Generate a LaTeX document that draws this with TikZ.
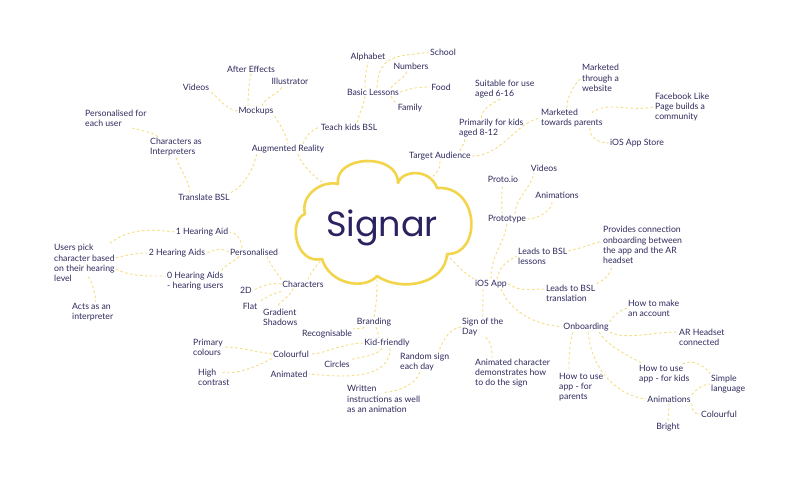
\documentclass[tikz,border=0pt]{standalone}
\usepackage{fontspec}
\setmainfont{Lato}
\newfontfamily\bigfont{Poppins}
\definecolor{ink}{HTML}{2F2B5E}
\definecolor{bigink}{HTML}{2A2360}
\definecolor{dashc}{HTML}{F6DD7E}
\definecolor{cloudc}{HTML}{F2D54B}
\begin{document}
\begin{tikzpicture}[x=1pt,y=-1pt,
  lbl/.style={font=\fontsize{8.7}{10.2}\selectfont, text=ink, inner sep=1pt, align=left},
  conn/.style={draw=dashc, line width=0.9pt, dash pattern=on 2.5pt off 2.5pt}]
\useasboundingbox[fill=white] (0,0) rectangle (800,479);
% cloud
\draw[cloudc, line width=2.6pt, line join=round]
  (305,214) .. controls (300,195) and (322,180) .. (338,184)
  .. controls (334,155) and (398,152) .. (398,183)
  .. controls (402,170) and (430,168) .. (437,188)
  .. controls (480,185) and (482,255) .. (447,254)
  .. controls (445,285) and (400,292) .. (377,276)
  .. controls (365,290) and (330,285) .. (322,259)
  .. controls (295,265) and (288,220) .. (305,214) -- cycle;
\coordinate (cAR) at (325,184);
\coordinate (cTA) at (430,179);
\coordinate (cIOS) at (447,254);
\coordinate (cBR) at (377,277);
\coordinate (cCH) at (322,259);
\node[anchor=base, text=bigink, font=\bigfont\fontsize{35}{40}\selectfont, inner sep=0pt] (signar) at (382,236) {Signar};

% top-left
\node[lbl] (vid1) at (196,87) {Videos};
\node[lbl] (ae) at (251,69) {After Effects};
\node[lbl] (ill) at (290,81) {Illustrator};
\node[lbl] (mock) at (256,111) {Mockups};
\node[lbl, anchor=west] (pers1) at (84,118) {Personalised for\\each user};
\node[lbl, anchor=west] (charint) at (149,147) {Characters as\\Interpreters};
\node[lbl] (ar) at (288,149) {Augmented Reality};
\node[lbl] (trans) at (204,197) {Translate BSL};
\node[lbl] (teach) at (349,127) {Teach kids BSL};
\node[lbl] (alpha) at (368,57) {Alphabet};
\node[lbl] (school) at (443,52) {School};
\node[lbl] (numbers) at (411,66) {Numbers};
\node[lbl] (basic) at (373,92) {Basic Lessons};
\node[lbl] (food) at (441,87) {Food};
\node[lbl] (family) at (410,108) {Family};
% top-right
\node[lbl, anchor=west] (suit) at (474,89) {Suitable for use\\aged 6-16};
\node[lbl, anchor=west] (prim) at (458,128) {Primarily for kids\\aged 8-12};
\node[lbl] (target) at (440,156) {Target Audience};
\node[lbl, anchor=west] (mweb) at (581,78) {Marketed\\through a\\website};
\node[lbl, anchor=west] (mpar) at (540,118) {Marketed\\towards parents};
\node[lbl, anchor=west] (fb) at (654,107) {Facebook Like\\Page builds a\\community};
\node[lbl] (appstore) at (637,143) {iOS App Store};
% right
\node[lbl] (protoio) at (503,179) {Proto.io};
\node[lbl] (vid2) at (544,168) {Videos};
\node[lbl] (anim1) at (557,195) {Animations};
\node[lbl] (proto) at (507,219) {Prototype};
\node[lbl, anchor=west] (provides) at (602,245) {Provides connection\\onboarding between\\the app and the AR\\headset};
\node[lbl, anchor=west] (lessons) at (517,256) {Leads to BSL\\lessons};
\node[lbl] (iosapp) at (491,284) {iOS App};
\node[lbl, anchor=west] (translation) at (545,293) {Leads to BSL\\translation};
\node[lbl] (onb) at (586,327) {Onboarding};
\node[lbl, anchor=west] (account) at (627,308) {How to make\\an account};
\node[lbl, anchor=west] (arhead) at (678,337) {AR Headset\\connected};
\node[lbl, anchor=west] (sotd) at (461,327) {Sign of the\\Day};
\node[lbl, anchor=west] (animchar) at (474,373) {Animated character\\demonstrates how\\to do the sign};
\node[lbl, anchor=west] (parents) at (558,387) {How to use\\app - for\\parents};
\node[lbl, anchor=west] (kids) at (638,374) {How to use\\app - for kids};
\node[lbl, anchor=west] (simple) at (710,384) {Simple\\language};
\node[lbl] (anim2) at (669,399) {Animations};
\node[lbl] (colour2) at (719,414) {Colourful};
\node[lbl] (bright) at (668,427) {Bright};
% left lower
\node[lbl] (ha1) at (202,232) {1 Hearing Aid};
\node[lbl, anchor=west] (users) at (53,263) {Users pick\\character based\\on their hearing\\level};
\node[lbl] (ha2) at (177,253) {2 Hearing Aids};
\node[lbl] (persd) at (254,252) {Personalised};
\node[lbl, anchor=west] (ha0) at (166,281) {0 Hearing Aids\\- hearing users};
\node[lbl] (chars) at (303,284) {Characters};
\node[lbl] (twod) at (246,290) {2D};
\node[lbl] (flat) at (250,306) {Flat};
\node[lbl, anchor=west] (grad) at (262,317) {Gradient\\Shadows};
\node[lbl, anchor=west] (acts) at (71,312) {Acts as an\\interpreter};
% bottom
\node[lbl] (brand) at (374,322) {Branding};
\node[lbl] (recog) at (327,334) {Recognisable};
\node[lbl] (kid) at (387,343) {Kid-friendly};
\node[lbl, anchor=west] (primary) at (192,347) {Primary\\colours};
\node[lbl] (colour1) at (291,354) {Colourful};
\node[lbl] (circles) at (337,364) {Circles};
\node[lbl, anchor=west] (random) at (399,362) {Random sign\\each day};
\node[lbl, anchor=west] (high) at (197,377) {High\\contrast};
\node[lbl] (animated) at (289,374) {Animated};
\node[lbl, anchor=west] (written) at (346,399) {Written\\instructions as well\\as an animation};

% connectors: augmented reality
\draw[conn] ([xshift=10pt]ar.south) .. controls +(3,10) and +(-10,-6) .. (cAR);
\draw[conn] (mock.south east) .. controls +(5,8) and +(-2,-10) .. (ar.north);
\draw[conn] ([xshift=15pt]ar.north) .. controls +(3,-8) and +(-8,3) .. (teach.west);
\draw[conn] ([xshift=6pt]ar.south west) .. controls +(-3,15) and +(12,-5) .. (trans.north east);
\draw[conn] ([xshift=-14pt]trans.north) .. controls +(0,-10) and +(2,8) .. (charint.south);
\draw[conn] ([xshift=-18pt]charint.north) .. controls +(-5,-5) and +(8,3) .. ([xshift=15pt]pers1.south);
\draw[conn] (mock.west) .. controls +(-12,-2) and +(8,6) .. (vid1.south east);
\draw[conn] ([xshift=-8pt]mock.north) .. controls +(0,-12) and +(-2,10) .. (ae.south);
\draw[conn] ([xshift=6pt]mock.north) .. controls +(3,-10) and +(0,8) .. ([xshift=-8pt]ill.south);
% basic lessons
\draw[conn] ([xshift=8pt]teach.north) .. controls +(3,-12) and +(-2,12) .. ([xshift=-8pt]basic.south);
\draw[conn] ([xshift=-8pt]basic.north) .. controls +(0,-12) and +(-2,10) .. (alpha.south);
\draw[conn] ([xshift=4pt]basic.north) .. controls +(2,-35) and +(-30,5) .. (school.west);
\draw[conn] ([xshift=18pt]basic.north) .. controls +(5,-6) and +(0,6) .. ([xshift=-4pt]numbers.south);
\draw[conn] (basic.east) .. controls +(12,-4) and +(-12,0) .. (food.west);
\draw[conn] ([xshift=18pt]basic.south) .. controls +(3,4) and +(-4,-2) .. (family.north west);
% target audience
\draw[conn] (target.south) .. controls +(0,10) and +(6,-6) .. (cTA);
\draw[conn] ([xshift=20pt]target.north) .. controls +(2,-5) and +(0,5) .. ([xshift=7pt]prim.south west);
\draw[conn] ([xshift=-10pt]prim.north) .. controls +(0,-8) and +(-8,4) .. ([xshift=-5pt]suit.south);
\draw[conn] (target.east) .. controls +(30,0) and +(-25,5) .. (mpar.west);
\draw[conn] ([xshift=-5pt]mpar.north) .. controls +(0,-12) and +(-6,6) .. (mweb.west);
\draw[conn] ([xshift=-12pt,yshift=-5pt]mpar.north east) .. controls +(15,-12) and +(-25,5) .. (fb.west);
\draw[conn] ([xshift=18pt]mpar.south) .. controls +(0,10) and +(-10,0) .. (appstore.west);
% iOS app
\draw[conn] (cIOS) .. controls +(10,12) and +(-10,-6) .. (iosapp.north west);
\draw[conn] (iosapp.north) .. controls +(0,-25) and +(-3,20) .. (proto.south);
\draw[conn] ([xshift=-5pt]proto.north) .. controls +(0,-12) and +(-2,10) .. (protoio.south);
\draw[conn] ([xshift=8pt]proto.north) .. controls +(0,-15) and +(-2,14) .. ([xshift=-10pt]vid2.south);
\draw[conn] (proto.east) .. controls +(12,0) and +(2,10) .. ([xshift=-5pt]anim1.south);
\draw[conn] ([xshift=6pt]iosapp.north) .. controls +(2,-14) and +(-6,3) .. (lessons.west);
\draw[conn] ([yshift=5pt]lessons.east) .. controls +(12,-3) and +(-15,5) .. ([yshift=4pt]provides.west);
\draw[conn] (iosapp.east) .. controls +(12,8) and +(-14,0) .. ([yshift=4pt]translation.west);
\draw[conn] (translation.north east) .. controls +(8,-3) and +(0,8) .. ([xshift=10pt]provides.south west);
\draw[conn] ([xshift=10pt]iosapp.south) .. controls +(10,22) and +(-30,-3) .. (onb.west);
\draw[conn] ([xshift=-8pt]iosapp.south) .. controls +(0,10) and +(0,-8) .. (sotd.north);
\draw[conn] (sotd.west) .. controls +(-14,2) and +(4,-8) .. ([xshift=-12pt]random.north east);
\draw[conn] ([xshift=3pt]sotd.south) .. controls +(6,6) and +(0,-8) .. ([xshift=18pt]animchar.north west);
\draw[conn] (onb.north east) .. controls +(5,-8) and +(-8,3) .. (account.west);
\draw[conn] (onb.south east) .. controls +(15,8) and +(-25,0) .. ([yshift=5pt]arhead.west);
\draw[conn] ([xshift=-13pt]onb.south) .. controls +(-4,12) and +(0,-10) .. ([xshift=11pt]parents.north west);
\draw[conn] ([xshift=13pt]onb.south) .. controls +(10,16) and +(-8,-5) .. ([xshift=5pt]kids.north west);
\draw[conn] ([xshift=2pt]onb.south) .. controls +(5,45) and +(-22,-2) .. (anim2.west);
\draw[conn] ([xshift=-8pt]kids.north east) .. controls +(10,-6) and +(-3,-6) .. (simple.north west);
\draw[conn] (anim2.north east) .. controls +(5,-6) and +(-6,0) .. (simple.west);
\draw[conn] (anim2.south east) .. controls +(0,8) and +(-6,0) .. (colour2.west);
\draw[conn] (anim2.south) .. controls +(0,8) and +(0,-6) .. (bright.north);
% characters
\draw[conn] ([xshift=5pt]chars.north) .. controls +(3,-8) and +(-5,6) .. (cCH);
\draw[conn] (chars.north west) .. controls +(-5,-8) and +(3,8) .. ([xshift=13pt]persd.south);
\draw[conn] ([xshift=-12pt]persd.north) .. controls +(0,-8) and +(6,0) .. (ha1.east);
\draw[conn] (persd.west) .. controls +(-10,-5) and +(10,-3) .. (ha2.east);
\draw[conn] ([xshift=-15pt]persd.south) .. controls +(-5,6) and +(3,-6) .. ([xshift=-3pt]ha0.north east);
\draw[conn] ([xshift=-6pt]users.north east) .. controls +(20,-15) and +(-25,-3) .. (ha1.west);
\draw[conn] ([yshift=5pt]users.east) .. controls +(10,-3) and +(-10,0) .. (ha2.west);
\draw[conn] ([yshift=-6pt]users.east) .. controls +(15,8) and +(-15,0) .. ([yshift=5pt]ha0.west);
\draw[conn] ([xshift=4pt,yshift=6pt]users.south) .. controls +(5,8) and +(0,-6) .. ([xshift=3pt]acts.north);
\draw[conn] (chars.west) .. controls +(-10,-2) and +(8,-3) .. (twod.east);
\draw[conn] ([yshift=-3pt]chars.south west) .. controls +(-12,3) and +(8,-3) .. (flat.north east);
\draw[conn] ([xshift=-10pt]chars.south) .. controls +(-2,8) and +(2,-6) .. ([xshift=15pt]grad.north west);
% branding
\draw[conn] (brand.north) .. controls +(3,-15) and +(0,12) .. (cBR);
\draw[conn] ([xshift=-10pt]brand.south) .. controls +(-3,4) and +(5,-2) .. (recog.north east);
\draw[conn] ([xshift=2pt]brand.south) .. controls +(1,3) and +(0,-3) .. ([xshift=-8pt]kid.north);
\draw[conn] (kid.west) .. controls +(-20,0) and +(15,0) .. (colour1.east);
\draw[conn] ([xshift=-5pt]kid.south) .. controls +(-5,8) and +(10,-3) .. (circles.north east);
\draw[conn] ([xshift=3pt]kid.south) .. controls +(0,35) and +(25,2) .. (animated.east);
\draw[conn] (colour1.west) .. controls +(-20,-3) and +(15,0) .. (primary.east);
\draw[conn] (colour1.south west) .. controls +(-15,8) and +(15,2) .. ([xshift=-8pt,yshift=-5pt]high.north east);
\draw[conn] ([xshift=-5pt]random.south) .. controls +(-3,12) and +(12,0) .. ([xshift=38pt,yshift=-8pt]written.north west);
\end{tikzpicture}
\end{document}
